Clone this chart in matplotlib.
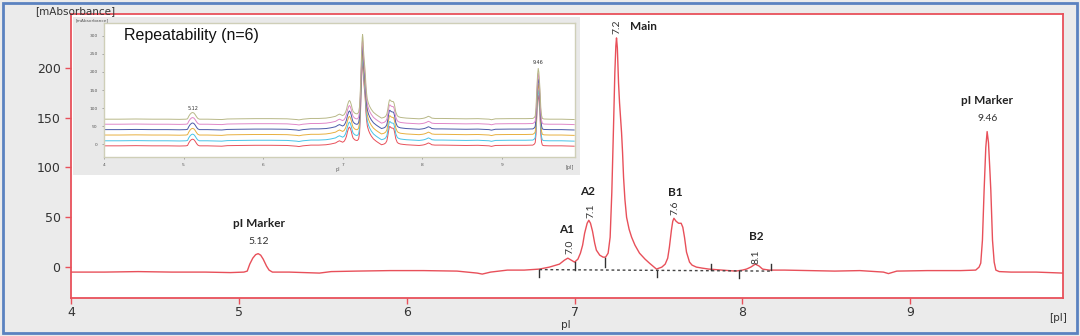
import matplotlib
matplotlib.use("Agg")
import matplotlib.pyplot as plt
from matplotlib.patches import Rectangle

# ---------------- data ----------------
trace_pi = [4.00, 4.20, 4.40, 4.60, 4.80, 4.95, 5.03, 5.05, 5.065, 5.083, 5.10, 5.115, 5.13, 5.145,
            5.165, 5.18, 5.20, 5.30, 5.48, 5.55, 5.70, 5.90, 6.10, 6.30, 6.42, 6.45, 6.50, 6.60,
            6.70, 6.79, 6.85, 6.91, 6.94, 6.96, 6.98, 7.00, 7.02, 7.035, 7.048, 7.06, 7.075, 7.085,
            7.095, 7.107, 7.12, 7.13, 7.15, 7.17, 7.185, 7.20, 7.212, 7.222, 7.232, 7.24, 7.246,
            7.25, 7.255, 7.262, 7.268, 7.274, 7.28, 7.286, 7.292, 7.30, 7.31, 7.325, 7.34, 7.36,
            7.387, 7.42, 7.446, 7.488, 7.52, 7.54, 7.555, 7.565, 7.577, 7.585, 7.592, 7.605, 7.62,
            7.635, 7.645, 7.655, 7.667, 7.685, 7.70, 7.726, 7.76, 7.80, 7.88, 7.96, 8.00, 8.024,
            8.05, 8.077, 8.10, 8.12, 8.16, 8.25, 8.40, 8.55, 8.70, 8.84, 8.87, 8.92, 9.10, 9.30,
            9.39, 9.41, 9.42, 9.43, 9.44, 9.45, 9.458, 9.466, 9.475, 9.48, 9.49, 9.50, 9.51, 9.53,
            9.60, 9.75, 9.91]
trace_mau = [-5, -5, -4.5, -5, -5, -5.5, -5, -4, 3, 9, 12.5, 13.5, 12, 8,
             1, -3, -5, -5, -6, -4.5, -4, -3.5, -3.5, -4, -6, -7, -5, -3,
             -3, -2, 0, 3, 7, 9, 7, 5, 8, 14, 22, 34, 44, 47,
             44, 36, 24, 17, 12, 10, 10, 14, 30, 75, 140, 195, 222,
             230, 220, 185, 165, 150, 135, 115, 90, 68, 50, 38, 30, 22,
             14, 8, 4, -2, 0, 3, 9, 20, 37, 46, 49, 46, 44,
             44, 40, 30, 15, 5, 2, 0, -1, -2, -3, -4, -3, -2,
             0, 3, 1, -2, -3, -3, -3.5, -4, -3.5, -5, -6.5, -4, -3.5, -3.5,
             -3, 0, 4, 27, 77, 120, 136, 125, 95, 77, 27, 5, -3, -4.5,
             -5, -5, -6]

# peak annotations
peak_x = [5.12, 6.97, 7.10, 7.25, 7.60, 8.08, 9.46]
peak_names = ["pI Marker", "A1", "A2", "Main", "B1", "B2", "pI Marker"]
peak_values = ["5.12", "7.0", "7.1", "7.2", "7.6", "8.1", "9.46"]

# integration baseline and drop marks
base_x = [6.79, 8.17]
base_y = [-2.5, -4.0]
mark_x = [6.79, 7.00, 7.18, 7.49, 7.81, 7.98, 8.17]
mark_lo = [-10, -3, 0, -10, -3, -11, -3]
mark_hi = [-3, 5, 9, -4, 3, -4, 3]

# inset (repeatability n=6)
inset_offsets = [0, 14, 30, 45, 60, 74]
inset_colors = ["#e8505a", "#48c4e8", "#e8b040", "#4a5aa8", "#e088c8", "#b8b888"]

x_ticks = [4, 5, 6, 7, 8, 9]
y_ticks = [0, 50, 100, 150, 200]
inset_y_ticks = [0, 50, 100, 150, 200, 250, 300]

# ---------------- figure ----------------
W, H = 1080, 336
fig = plt.figure(figsize=(W / 100, H / 100), dpi=100, facecolor="#ebebeb")

def fx(px):
    return px / W

def fy(py):
    return 1 - py / H

RED = "#e8505a"
TXT = "#333333"

# outer blue frame
fig.patches.append(Rectangle((fx(3), fy(333)), fx(1074), (330) / H, transform=fig.transFigure,
                             fill=False, edgecolor="#5b82c0", lw=2.0))

ax = fig.add_axes([fx(71), fy(298), fx(1063 - 71), (298 - 14) / H])
ax.set_facecolor("white")
ax.plot(trace_pi, trace_mau, color=RED, lw=1.0)
ax.set_xlim(4, 9.91)
ax.set_ylim(-31, 254)
for s in ax.spines.values():
    s.set_color(RED)
    s.set_linewidth(1.3)
ax.set_xticks(x_ticks)
ax.set_yticks(y_ticks)
ax.tick_params(axis="both", colors=RED, labelcolor=TXT, labelsize=9, length=4, width=1, direction="out")
ax.tick_params(axis="x", pad=1.5)

# integration baseline
ax.plot(base_x, base_y, color="#444444", lw=1.0, ls=(0, (2, 2)))
for mx, lo, hi in zip(mark_x, mark_lo, mark_hi):
    ax.plot([mx, mx], [lo, hi], color="#333333", lw=1.0)

# peak labels
name_y = [44, 38, 76, 241, 75, 31, 167]
val_y = [26, 20, 57, 241, 60, 10, 149]
name_dx = [0, -0.02, -0.02, 0.16, 0.0, 0.0, 0.0]
for xx, nm, ny, vt, vy, dx in zip(peak_x, peak_names, name_y, peak_values, val_y, name_dx):
    rotated = vt not in ("5.12", "9.46")
    ax.text(xx + dx, ny, nm, ha="center", va="center", fontsize=8.5, fontweight="bold",
            family=["Lato", "DejaVu Sans"], color="#222222")
    ax.text(xx, vy, vt, ha="center", va="center", fontsize=7.5, color=TXT,
            rotation=90 if rotated else 0, family=["Lato", "DejaVu Sans"])

fig.text(fx(35), fy(11), "[mAbsorbance]", fontsize=7.5, color=TXT, va="center", ha="left")
fig.text(fx(1058), fy(318), "[pI]", fontsize=7.5, color=TXT, va="center", ha="center")
fig.text(fx(566), fy(325), "pI", fontsize=7.5, color=TXT, va="center", ha="center")

# ---------------- inset ----------------
panel = fig.add_axes([fx(73), fy(175), fx(580 - 73), (175 - 17) / H])
panel.set_facecolor("#e9e9e9")
panel.set_xticks([])
panel.set_yticks([])
for s in panel.spines.values():
    s.set_visible(False)

iax = fig.add_axes([fx(104), fy(157), fx(575 - 104), (157 - 23) / H])
iax.set_facecolor("white")
for off, col in zip(inset_offsets, inset_colors):
    iax.plot(trace_pi, [v + off for v in trace_mau], color=col, lw=0.7)
iax.set_xlim(4, 9.92)
iax.set_ylim(-36, 336)
iax.set_xticks(x_ticks)
iax.set_yticks(inset_y_ticks)
for s in iax.spines.values():
    s.set_color("#cfcfb8")
    s.set_linewidth(1.0)
iax.tick_params(axis="both", colors="#888888", labelcolor="#555555", labelsize=3.2, length=1.5,
                width=0.5, pad=3)
iax.text(5.12, 100, "5.12", fontsize=3.5, ha="center", va="center", color="#333333")
iax.text(9.46, 225, "9.46", fontsize=3.5, ha="center", va="center", color="#333333")
iax.text(4.25, 300, "Repeatability (n=6)", fontsize=11.5, ha="left", va="center",
         family=["Liberation Sans", "DejaVu Sans"], color="#111111")
fig.text(fx(76), fy(20), "[mAbsorbance]", fontsize=3.2, color="#555555", va="center", ha="left")
fig.text(fx(338), fy(170), "pI", fontsize=3.5, color="#555555", va="center", ha="center")
fig.text(fx(570), fy(168), "[pI]", fontsize=3.5, color="#555555", va="center", ha="center")

fig.savefig("out.png", dpi=100, facecolor=fig.get_facecolor())
